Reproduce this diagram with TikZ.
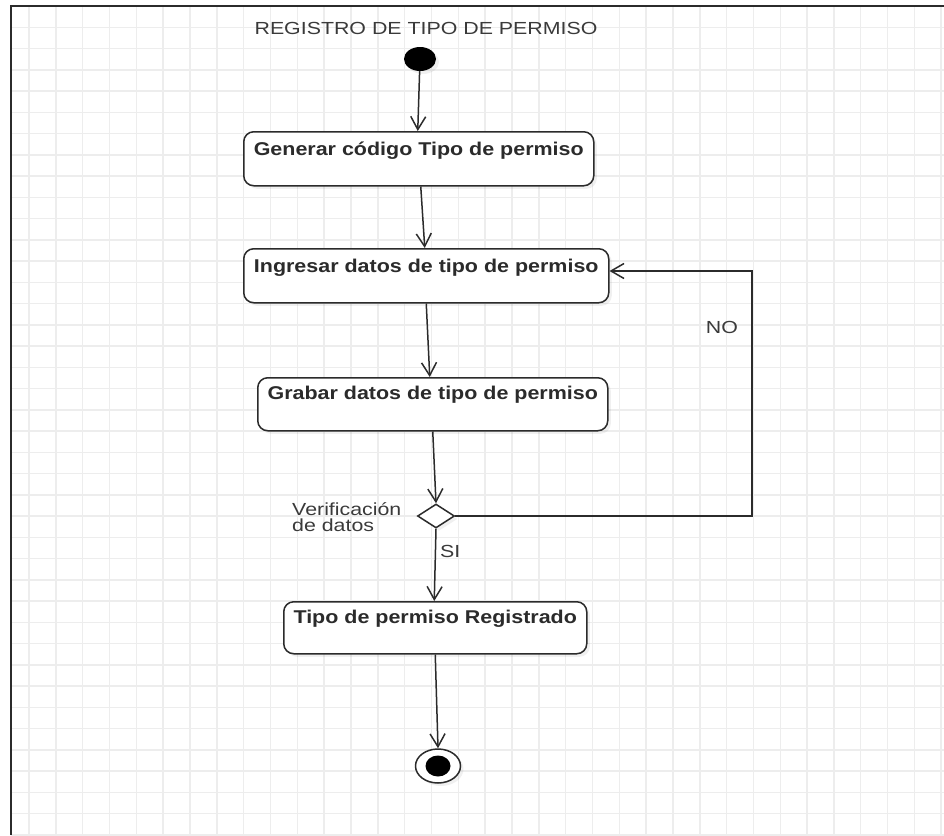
\documentclass[tikz,border=0pt]{standalone}
\usepackage{fontspec}
\setmainfont{Liberation Sans}
\usetikzlibrary{arrows.meta,shapes.geometric,shadows}

\definecolor{ink}{HTML}{2B2B2B}
\definecolor{labelink}{HTML}{3A3A3A}
\definecolor{gridline}{HTML}{EDEDED}

% horizontally widened text
\newcommand\widetext[2]{\scalebox{#1}[1]{#2}}

\begin{document}
\begin{tikzpicture}[x=1pt,y=-1pt,
  softshadow/.style={drop shadow={shadow xshift=3pt,shadow yshift=-3pt,opacity=0.12}},
  activity/.style={draw=ink,line width=1.5pt,rounded corners=10pt,fill=white,
    inner sep=0pt,anchor=north west,text height=24pt,text depth=30pt,
    font=\fontsize{18.5}{22}\selectfont\bfseries,text=ink,softshadow},
  decision/.style={diamond,draw=ink,line width=1.5pt,fill=white,inner sep=0pt,
    minimum width=37pt,minimum height=24pt,softshadow},
  plainlabel/.style={font=\fontsize{17.5}{20}\selectfont,text=labelink,inner sep=0pt},
  flow/.style={draw=ink,line width=1.5pt,
    -{Straight Barb[length=13pt,width=15pt,line width=1.5pt]}}
]
\useasboundingbox (0,0) rectangle (944,835);

% background grid
\foreach \k in {0,...,34}
  \draw[gridline,line width=1.5pt] ({29+26.83*\k},6) -- ({29+26.83*\k},835);
\foreach \k in {1,...,39}
  \draw[gridline,line width=1.5pt] (11,{6+21.25*\k}) -- (944,{6+21.25*\k});

% frame
\draw[ink,line width=2pt] (11,835) -- (11,6) -- (944,6);

% title
\node[plainlabel,anchor=base] (title) at (426,34.3)
  {\widetext{1.22}{REGISTRO DE TIPO DE PERMISO}};

% start
\node[ellipse,fill=black,inner sep=0pt,minimum width=32pt,minimum height=24pt,softshadow]
  (init) at (420,59) {};

% activities
\node[activity,minimum width=350pt] (box1) at (243,131)
  {\widetext{1.16}{Generar código Tipo de permiso}};
\node[activity,minimum width=365pt] (box2) at (243,248)
  {\widetext{1.16}{Ingresar datos de tipo de permiso}};
\node[activity,minimum width=350pt,text height=22pt,text depth=31pt] (box3) at (257,377)
  {\widetext{1.16}{Grabar datos de tipo de permiso}};

% decision
\node[decision] (dec) at (436,516) {};
\node[plainlabel,anchor=base west] (ver1) at (292,515) {\widetext{1.22}{Verificación}};
\node[plainlabel,anchor=base west] (ver2) at (292,531) {\widetext{1.22}{de datos}};

\node[activity,minimum width=303pt,text height=22pt,text depth=30pt] (box4) at (283,601)
  {\widetext{1.16}{Tipo de permiso Registrado}};

% end
\node[ellipse,draw=ink,line width=1.5pt,fill=white,inner sep=0pt,
  minimum width=45pt,minimum height=34pt,softshadow] (final) at (438,766) {};
\node[ellipse,fill=black,inner sep=0pt,minimum width=25pt,minimum height=21pt]
  (finaldot) at (final.center) {};

% flows
\draw[flow] (init) -- ([xshift=-1pt]box1.north);
\draw[flow] ([xshift=2pt]box1.south) -- ([xshift=-1.5pt]box2.north);
\draw[flow] (box2.south) -- ([xshift=-3pt]box3.north);
\draw[flow] (box3.south) -- (dec.north);
\draw[flow] (dec.south) -- ([xshift=-1pt]box4.north);
\draw[flow] (box4.south) -- (final.north);

% loop back on failed check
\coordinate (loopc) at (752,271);
\draw[flow] (dec.east) -| (loopc) -- (loopc -| box2.east);

\node[plainlabel,anchor=base] (nolbl) at (722,333.3) {\widetext{1.22}{NO}};
\node[plainlabel,anchor=base west] (silbl) at (440,557) {\widetext{1.22}{SI}};
\end{tikzpicture}
\end{document}
